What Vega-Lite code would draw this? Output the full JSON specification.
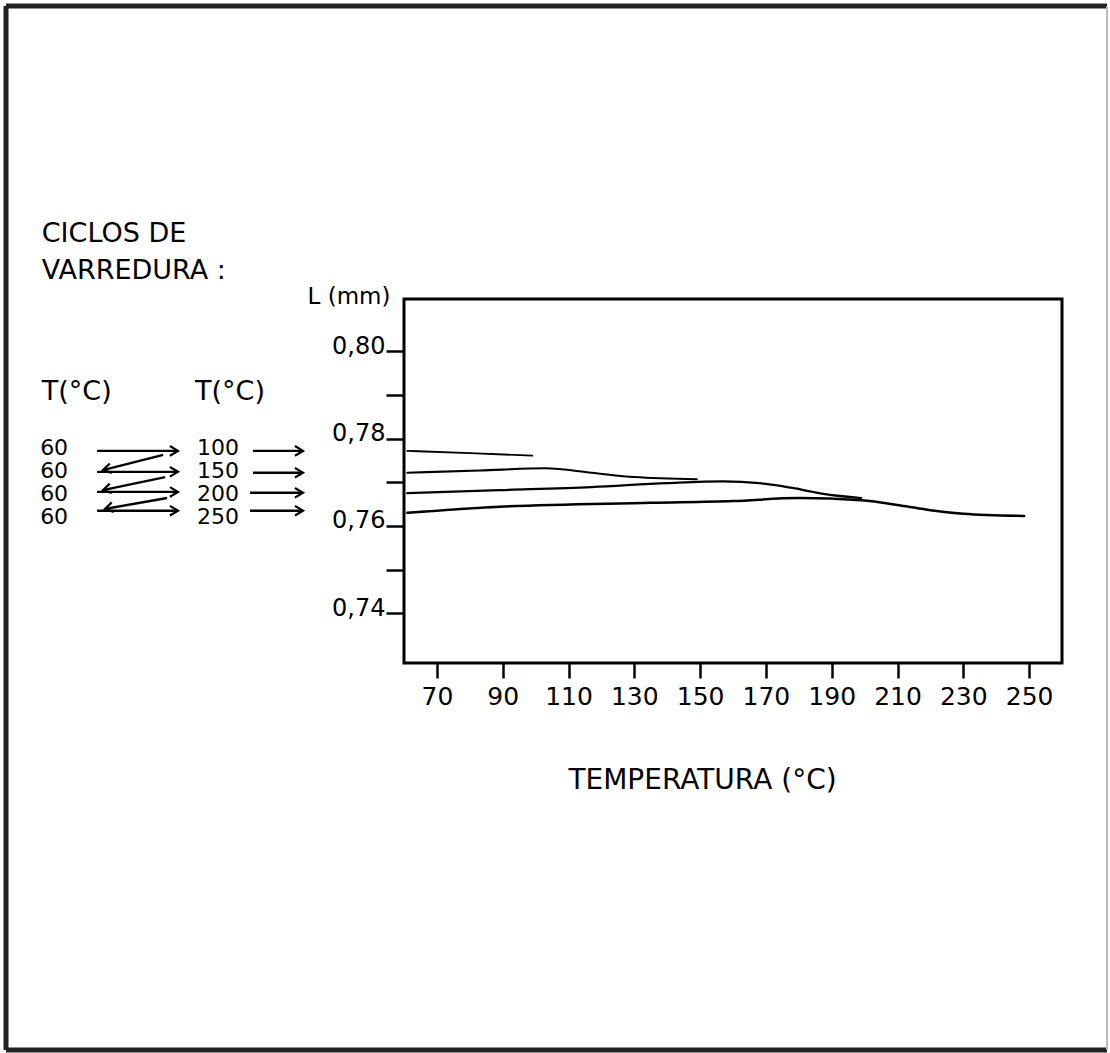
{
  "$schema": "https://vega.github.io/schema/vega-lite/v6.json",
  "width": 658,
  "height": 364,
  "autosize": {"type": "none"},
  "padding": {"left": 404, "top": 299, "right": 48, "bottom": 390},
  "background": "white",
  "config": {
    "view": {"stroke": "black", "strokeWidth": 3},
    "font": "DejaVu Sans"
  },
  "datasets": {
    "curves": [
      {"cycle": "100", "x": 61, "y": 0.7772},
      {"cycle": "100", "x": 80, "y": 0.7767},
      {"cycle": "100", "x": 99, "y": 0.7761},
      {"cycle": "150", "x": 61, "y": 0.7722},
      {"cycle": "150", "x": 83, "y": 0.7727},
      {"cycle": "150", "x": 103, "y": 0.7732},
      {"cycle": "150", "x": 117, "y": 0.7722},
      {"cycle": "150", "x": 130, "y": 0.7712},
      {"cycle": "150", "x": 149, "y": 0.7707},
      {"cycle": "200", "x": 61, "y": 0.7675},
      {"cycle": "200", "x": 89, "y": 0.7682},
      {"cycle": "200", "x": 117, "y": 0.7689},
      {"cycle": "200", "x": 140, "y": 0.7698},
      {"cycle": "200", "x": 157, "y": 0.7702},
      {"cycle": "200", "x": 168, "y": 0.7698},
      {"cycle": "200", "x": 178, "y": 0.7687},
      {"cycle": "200", "x": 188, "y": 0.7673},
      {"cycle": "200", "x": 199, "y": 0.7664},
      {"cycle": "250", "x": 61, "y": 0.763},
      {"cycle": "250", "x": 89, "y": 0.7644},
      {"cycle": "250", "x": 135, "y": 0.7653},
      {"cycle": "250", "x": 160, "y": 0.7657},
      {"cycle": "250", "x": 180, "y": 0.7664},
      {"cycle": "250", "x": 199, "y": 0.7659},
      {"cycle": "250", "x": 211, "y": 0.7647},
      {"cycle": "250", "x": 220, "y": 0.7636},
      {"cycle": "250", "x": 230, "y": 0.7628},
      {"cycle": "250", "x": 248.5, "y": 0.7623}
    ],
    "headings": [
      {"x": -50.1, "y": 0.8251, "t": "CICLOS DE"},
      {"x": -50.1, "y": 0.8166, "t": "VARREDURA :"},
      {"x": -50.1, "y": 0.7889, "t": "T(°C)"},
      {"x": -3.5, "y": 0.7889, "t": "T(°C)"}
    ],
    "numbers": [
      {"x": -50.6, "y": 0.77626, "t": "60"},
      {"x": -50.6, "y": 0.77099, "t": "60"},
      {"x": -50.6, "y": 0.76572, "t": "60"},
      {"x": -50.6, "y": 0.76045, "t": "60"},
      {"x": -2.9, "y": 0.77626, "t": "100"},
      {"x": -2.9, "y": 0.77099, "t": "150"},
      {"x": -2.9, "y": 0.76572, "t": "200"},
      {"x": -2.9, "y": 0.76045, "t": "250"}
    ],
    "arrows": [
      {"x": -33.3, "y": 0.7772, "x2": -8.7, "y2": 0.7772},
      {"x": -33.3, "y": 0.7724, "x2": -8.7, "y2": 0.7724},
      {"x": -33.3, "y": 0.7678, "x2": -8.7, "y2": 0.7678},
      {"x": -33.3, "y": 0.7635, "x2": -8.7, "y2": 0.7635},
      {"x": 14.1, "y": 0.7772, "x2": 29.3, "y2": 0.7772},
      {"x": 14.1, "y": 0.7722, "x2": 29.3, "y2": 0.7722},
      {"x": 13.2, "y": 0.7676, "x2": 29.3, "y2": 0.7676},
      {"x": 13.2, "y": 0.7635, "x2": 29.3, "y2": 0.7635},
      {"x": -13.2, "y": 0.7763, "x2": -31.5, "y2": 0.7728},
      {"x": -12.6, "y": 0.7712, "x2": -31.5, "y2": 0.7682},
      {"x": -12.0, "y": 0.7664, "x2": -30.9, "y2": 0.7639}
    ],
    "headsRight": [
      {"x": -8.7, "y": 0.7772},
      {"x": -8.7, "y": 0.7724},
      {"x": -8.7, "y": 0.7678},
      {"x": -8.7, "y": 0.7635},
      {"x": 29.3, "y": 0.7772},
      {"x": 29.3, "y": 0.7722},
      {"x": 29.3, "y": 0.7676},
      {"x": 29.3, "y": 0.7635}
    ],
    "headsLeft": [
      {"x": -31.5, "y": 0.7728},
      {"x": -31.5, "y": 0.7682},
      {"x": -30.9, "y": 0.7639}
    ]
  },
  "layer": [
    {
      "data": {"name": "curves"},
      "mark": {"type": "line", "interpolate": "monotone", "color": "black", "strokeCap": "round"},
      "encoding": {
        "x": {
          "field": "x", "type": "quantitative",
          "scale": {"domain": [60, 260], "nice": false, "zero": false},
          "axis": {
            "values": [70, 90, 110, 130, 150, 170, 190, 210, 230, 250],
            "title": "TEMPERATURA (°C)",
            "titleFontSize": 28, "titleFontWeight": "normal", "titleColor": "black",
            "titleX": 298, "titleY": 125, "titleAlign": "center", "titleBaseline": "alphabetic",
            "labelFontSize": 25, "labelColor": "black", "labelPadding": 6,
            "labelFlush": false, "labelOverlap": false,
            "tickSize": 15, "tickWidth": 2.5, "tickColor": "black",
            "domain": false, "grid": false
          }
        },
        "y": {
          "field": "y", "type": "quantitative",
          "scale": {"domain": [0.7286, 0.812], "nice": false, "zero": false},
          "axis": {
            "values": [0.74, 0.75, 0.76, 0.77, 0.78, 0.79, 0.8],
            "labelExpr": "(round(datum.value*100) % 2 == 0) ? replace(format(datum.value, '.2f'), '.', ',') : ''",
            "title": "L (mm)",
            "titleAngle": 0, "titleAlign": "right", "titleBaseline": "alphabetic",
            "titleX": -14, "titleY": 4,
            "titleFontSize": 23, "titleFontWeight": "normal", "titleColor": "black",
            "labelFontSize": 24, "labelColor": "black", "labelPadding": 1,
            "labelBaseline": "alphabetic", "labelOffset": 2,
            "labelFlush": false, "labelOverlap": false,
            "tickSize": 18, "tickWidth": 2.5, "tickColor": "black",
            "domain": false, "grid": false
          }
        },
        "strokeWidth": {
          "field": "cycle", "type": "nominal",
          "scale": {"domain": ["100", "150", "200", "250"], "range": [1.8, 2.5, 3.2, 3.4]},
          "legend": null
        }
      }
    },
    {
      "data": {"name": "headings"},
      "mark": {"type": "text", "align": "left", "baseline": "alphabetic", "fontSize": 27, "color": "black"},
      "encoding": {
        "x": {"field": "x", "type": "quantitative"},
        "y": {"field": "y", "type": "quantitative"},
        "text": {"field": "t"}
      }
    },
    {
      "data": {"name": "numbers"},
      "mark": {"type": "text", "align": "left", "baseline": "alphabetic", "fontSize": 22, "color": "black"},
      "encoding": {
        "x": {"field": "x", "type": "quantitative"},
        "y": {"field": "y", "type": "quantitative"},
        "text": {"field": "t"}
      }
    },
    {
      "data": {"name": "arrows"},
      "mark": {"type": "rule", "color": "black", "strokeWidth": 2.4},
      "encoding": {
        "x": {"field": "x", "type": "quantitative"},
        "y": {"field": "y", "type": "quantitative"},
        "x2": {"field": "x2"},
        "y2": {"field": "y2"}
      }
    },
    {
      "data": {"name": "headsRight"},
      "mark": {"type": "point", "shape": "M-1,-0.6L0,0L-1,0.6", "filled": false, "stroke": "black", "strokeWidth": 2.2, "size": 260, "opacity": 1},
      "encoding": {
        "x": {"field": "x", "type": "quantitative"},
        "y": {"field": "y", "type": "quantitative"}
      }
    },
    {
      "data": {"name": "headsLeft"},
      "mark": {"type": "point", "shape": "M-1,-0.6L0,0L-1,0.6", "filled": false, "stroke": "black", "strokeWidth": 2.2, "size": 260, "angle": 167, "opacity": 1},
      "encoding": {
        "x": {"field": "x", "type": "quantitative"},
        "y": {"field": "y", "type": "quantitative"}
      }
    },
    {
      "data": {"values": [{}]},
      "mark": {"type": "rule", "color": "#222222", "strokeWidth": 5},
      "encoding": {
        "x": {"datum": -60.97},
        "x2": {"datum": 273.7},
        "y": {"datum": 0.87913}
      }
    },
    {
      "data": {"values": [{}]},
      "mark": {"type": "rule", "color": "#222222", "strokeWidth": 5},
      "encoding": {
        "x": {"datum": -60.97},
        "x2": {"datum": 273.7},
        "y": {"datum": 0.63993}
      }
    },
    {
      "data": {"values": [{}]},
      "mark": {"type": "rule", "color": "#222222", "strokeWidth": 5},
      "encoding": {
        "x": {"datum": -60.97},
        "y": {"datum": 0.87913},
        "y2": {"datum": 0.63993}
      }
    },
    {
      "data": {"values": [{}]},
      "mark": {"type": "rule", "color": "#bbbbbb", "strokeWidth": 2},
      "encoding": {
        "x": {"datum": 273.7},
        "y": {"datum": 0.87913},
        "y2": {"datum": 0.63993}
      }
    }
  ]
}
